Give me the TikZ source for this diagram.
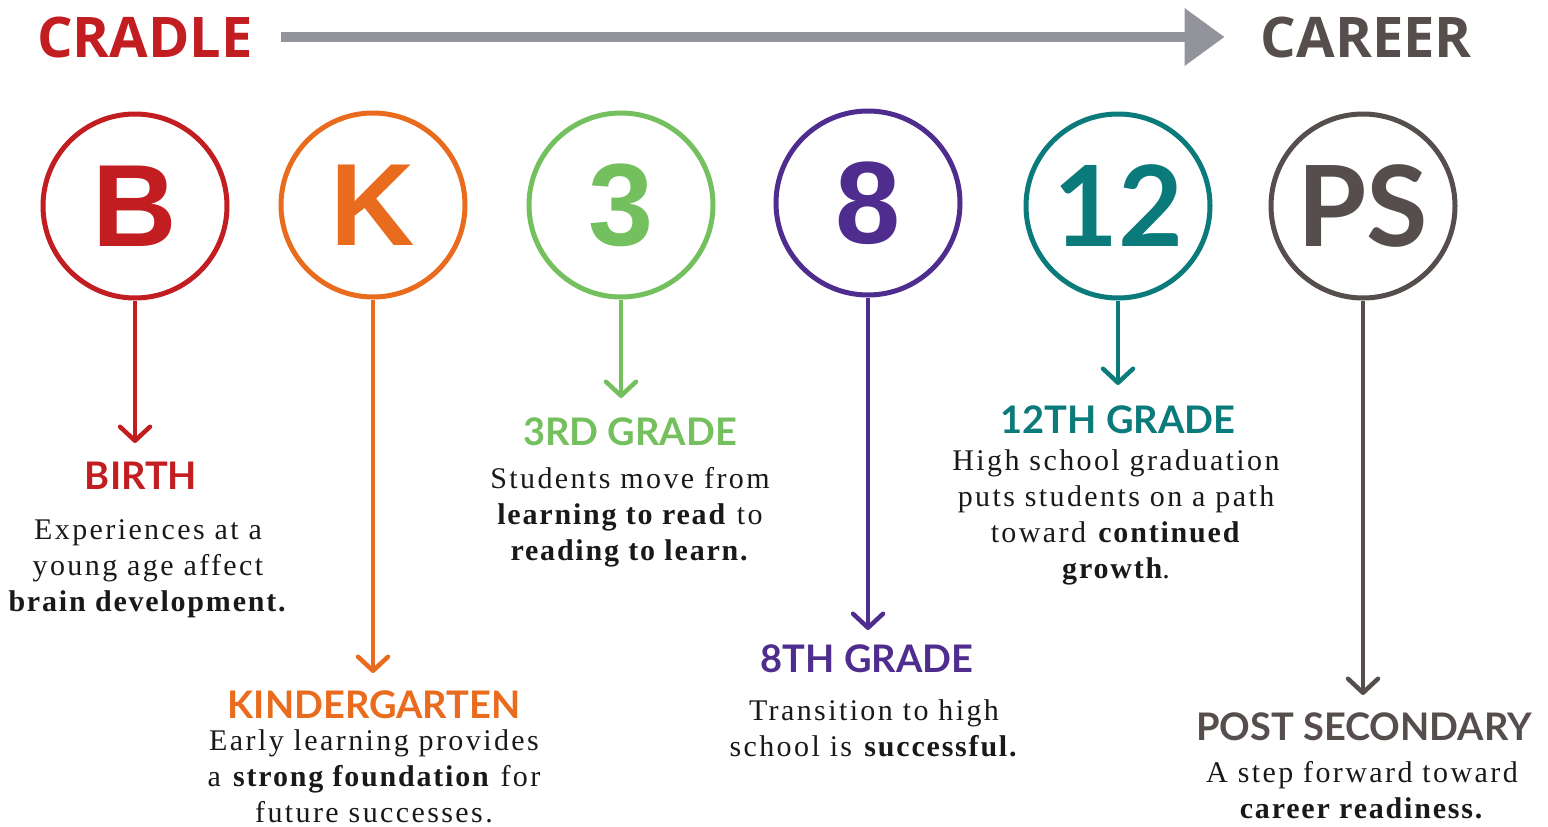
\documentclass[tikz,border=0pt]{standalone}
\usepackage{fontspec}
\usetikzlibrary{arrows.meta}
\setmainfont{Liberation Serif}[LetterSpace=8, BoldFeatures={LetterSpace=6}]
\newfontfamily\headfont{Open Sans}
\newfontfamily\stagefont{Lato}
\newfontfamily\letterfont{Liberation Sans}
\definecolor{birthred}{RGB}{194,29,33}
\definecolor{kinderorange}{RGB}{233,107,30}
\definecolor{thirdgreen}{RGB}{116,191,94}
\definecolor{eighthpurple}{RGB}{78,45,142}
\definecolor{twelfthteal}{RGB}{11,122,122}
\definecolor{psgray}{RGB}{86,78,77}
\definecolor{timelinegray}{RGB}{147,147,155}
\begin{document}
\begin{tikzpicture}[x=1pt,y=-1pt,
        head/.style={inner sep=0pt, font=\headfont\bfseries\fontsize{56}{56}\selectfont},
        badge/.style={circle, draw, line width=5pt, minimum size=184pt, inner sep=0pt,
            font=\letterfont\bfseries\fontsize{117}{117}\selectfont},
        badge lato/.style={badge, font=\stagefont\bfseries\fontsize{112}{112}\selectfont},
        stem/.style={line width=4.5pt, -{Straight Barb[length=14pt,width=30pt,round]}},
        stage/.style={anchor=base, inner sep=0pt, font=\stagefont\bfseries\fontsize{38}{38}\selectfont},
        blurb/.style={anchor=base, inner sep=0pt, align=center, text=black!90,
            font=\fontsize{30}{36}\selectfont}]
    \useasboundingbox (0,0) rectangle (1548,827);

    \node[head, text=birthred, anchor=base west] (cradle) at (37,57) {CRADLE};
    \node[head, text=psgray, anchor=base east] (career) at (1472,57) {CAREER};

    \node[badge, draw=birthred, text=birthred] (b) at (135,206) {B};
    \node[badge, draw=kinderorange, text=kinderorange] (k) at (373,205) {K};
    \node[badge, draw=thirdgreen, text=thirdgreen] (g3) at (621,205) {3};
    \node[badge, draw=eighthpurple, text=eighthpurple] (g8) at (868,203) {8};
    \node[badge lato, draw=twelfthteal, text=twelfthteal] (g12) at (1118,206) {12};
    \node[badge lato, draw=psgray, text=psgray] (ps) at (1363,206) {PS};

    \coordinate (btip) at (135,443);
    \coordinate (ktip) at (373,673);
    \coordinate (g3tip) at (621,398);
    \coordinate (g8tip) at (868,630);
    \coordinate (g12tip) at (1118,385);
    \coordinate (pstip) at (1363,695);

    \node[stage, text=birthred] (birth) at (141,489) {BIRTH};
    \node[stage, text=kinderorange] (kinder) at (374,718) {KINDERGARTEN};
    \node[stage, text=thirdgreen] (third) at (630,445) {3RD GRADE};
    \node[stage, text=eighthpurple] (eighth) at (867,672) {8TH GRADE};
    \node[stage, text=twelfthteal] (twelfth) at (1118,433) {12TH GRADE};
    \node[stage, text=psgray] (post) at (1364,740) {POST SECONDARY};

    \node[blurb] (birthtext) at (148,611) {Experiences at a\\young age affect\\\textbf{brain development.}};
    \node[blurb] (kindertext) at (374,822) {Early learning provides\\a \textbf{strong foundation} for\\future successes.};
    \node[blurb] (thirdtext) at (630,560) {Students move from\\\textbf{learning to read} to\\\textbf{reading to learn.}};
    \node[blurb] (eighthtext) at (874,756) {Transition to high\\school is \textbf{successful.}};
    \node[blurb] (twelfthtext) at (1116,578) {High school graduation\\puts students on a path\\toward \textbf{continued}\\\textbf{growth}.};
    \node[blurb] (posttext) at (1362,818) {A step forward toward\\\textbf{career readiness.}};

    \draw[line width=10pt, timelinegray, -{Triangle[length=40pt,width=55pt]}]
        ([xshift=28pt]cradle.east) -- ([xshift=-36pt]career.west);

    \draw[stem, birthred] (b) -- (btip);
    \draw[stem, kinderorange] (k) -- (ktip);
    \draw[stem, thirdgreen] (g3) -- (g3tip);
    \draw[stem, eighthpurple] (g8) -- (g8tip);
    \draw[stem, twelfthteal] (g12) -- (g12tip);
    \draw[stem, psgray] (ps) -- (pstip);
\end{tikzpicture}
\end{document}
